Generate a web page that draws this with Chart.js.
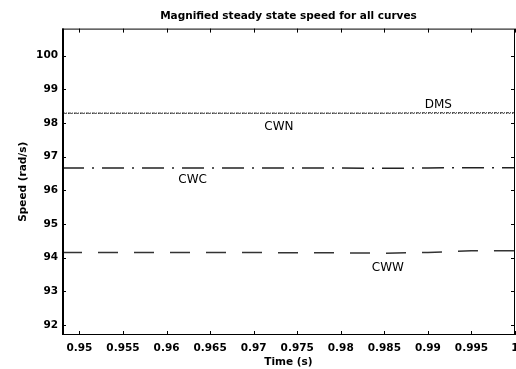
<!DOCTYPE html>
<html>
<head>
<meta charset="utf-8">
<script src="https://cdn.jsdelivr.net/npm/chart.js@4/dist/chart.umd.min.js"></script>
<style>
  body { margin: 0; background: #fff; }
  #box { width: 516px; height: 369px; }
</style>
</head>
<body>
<div id="box"><canvas id="speed-chart"></canvas></div>
<script>
// Time samples (s) and steady state speeds (rad/s)
let timeValues = [0.948, 0.955, 0.96, 0.965, 0.97, 0.975, 0.98, 0.985, 0.99, 0.995, 1.0]
let dmsSpeed = [98.29, 98.29, 98.29, 98.29, 98.29, 98.29, 98.29, 98.29, 98.3, 98.3, 98.3]
let cwnSpeed = [98.28, 98.28, 98.28, 98.28, 98.28, 98.28, 98.28, 98.28, 98.28, 98.28, 98.28]
let cwcSpeed = [96.66, 96.66, 96.66, 96.66, 96.66, 96.66, 96.66, 96.65, 96.66, 96.67, 96.67]
let cwwSpeed = [94.15, 94.15, 94.15, 94.15, 94.15, 94.14, 94.14, 94.13, 94.15, 94.2, 94.2]

// Tick labels
let xTicks = [0.95, 0.955, 0.96, 0.965, 0.97, 0.975, 0.98, 0.985, 0.99, 0.995, 1]
let yTicks = [92, 93, 94, 95, 96, 97, 98, 99, 100]

// Curve names written inside the plot, in data coordinates
let labelNames = ['DMS', 'CWN', 'CWC', 'CWW']
let labelTimes = [0.9912, 0.9729, 0.963, 0.9854]
let labelSpeeds = [98.54, 97.88, 96.32, 93.7]

let font = 'DejaVu Sans'

function makePoints(values) {
    return values.map(function(v, i) { return {x: timeValues[i], y: v} })
}

// Draws the box round the plot, the inward ticks and the curve names
let framePlugin = {
    id: 'frame',
    afterDraw(chart) {
        let ctx = chart.ctx
        let a = chart.chartArea
        let xs = chart.scales.x
        let ys = chart.scales.y
        ctx.save()
        ctx.strokeStyle = '#000'
        ctx.lineWidth = 1
        ctx.strokeRect(a.left + 0.5, a.top + 0.5, a.right - a.left - 1, a.bottom - a.top - 1)
        // heavier left edge, as in the scan
        ctx.lineWidth = 2
        ctx.beginPath()
        ctx.moveTo(a.left + 1, a.top); ctx.lineTo(a.left + 1, a.bottom)
        ctx.stroke()
        ctx.lineWidth = 1
        ctx.beginPath()
        xTicks.forEach(function(t) {
            let px = Math.round(xs.getPixelForValue(t)) + 0.5
            ctx.moveTo(px, a.bottom); ctx.lineTo(px, a.bottom - 4)
            ctx.moveTo(px, a.top); ctx.lineTo(px, a.top + 4)
        })
        yTicks.forEach(function(t) {
            let py = Math.round(ys.getPixelForValue(t)) + 0.5
            ctx.moveTo(a.left, py); ctx.lineTo(a.left + 4, py)
            ctx.moveTo(a.right, py); ctx.lineTo(a.right - 4, py)
        })
        ctx.stroke()
        ctx.fillStyle = '#000'
        ctx.font = '12px "' + font + '"'
        ctx.textAlign = 'center'
        ctx.textBaseline = 'middle'
        labelNames.forEach(function(name, i) {
            ctx.fillText(name, xs.getPixelForValue(labelTimes[i]), ys.getPixelForValue(labelSpeeds[i]))
        })
        ctx.restore()
    }
}

let ctx = document.querySelector('#speed-chart').getContext('2d')
let speedChart = new Chart(ctx, {
    type: 'line',
    data: {
        datasets: [
            {label: 'DMS', data: makePoints(dmsSpeed), borderColor: '#222', borderWidth: 1, borderDash: [3, 1, 1, 1]},
            {label: 'CWN', data: makePoints(cwnSpeed), borderColor: '#555', borderWidth: 1, borderDash: [1, 2]},
            {label: 'CWC', data: makePoints(cwcSpeed), borderColor: '#222', borderWidth: 1.5, borderDash: [22, 8, 2, 8]},
            {label: 'CWW', data: makePoints(cwwSpeed), borderColor: '#333', borderWidth: 1.5, borderDash: [20, 16]}
        ]
    },
    options: {
        responsive: true,
        maintainAspectRatio: false,
        animation: false,
        layout: {padding: {left: 0, right: 1, top: 0, bottom: 0}},
        elements: {point: {radius: 0}, line: {tension: 0}},
        plugins: {
            legend: {display: false},
            tooltip: {enabled: false},
            title: {
                display: true,
                fullSize: false,
                text: 'Magnified steady state speed for all curves',
                color: '#000',
                font: {family: font, size: 10.5, weight: 'bold', lineHeight: 1.2},
                padding: {top: 10, bottom: 6}
            }
        },
        scales: {
            x: {
                type: 'linear',
                min: 0.948,
                max: 1.0,
                afterBuildTicks: function(scale) { scale.ticks = xTicks.map(function(v) { return {value: v} }) },
                afterFit: function(scale) {
                    scale.height = 34
                    scale.paddingLeft = 0
                    scale.paddingRight = 0
                },
                grid: {display: false, drawTicks: false},
                border: {display: false},
                ticks: {
                    autoSkip: false,
                    maxRotation: 0,
                    padding: 7,
                    color: '#000',
                    font: {family: font, size: 10.5, weight: 'bold'},
                    callback: function(v) { return String(+v.toFixed(3)) }
                },
                title: {
                    display: true,
                    text: 'Time (s)',
                    color: '#000',
                    font: {family: font, size: 10.5, weight: 'bold'},
                    padding: {top: 0, bottom: 0}
                }
            },
            y: {
                min: 91.7,
                max: 100.8,
                afterBuildTicks: function(scale) { scale.ticks = yTicks.map(function(v) { return {value: v} }) },
                afterFit: function(scale) {
                    scale.width = 62
                    scale.paddingTop = 0
                    scale.paddingBottom = 0
                },
                grid: {display: false, drawTicks: false},
                border: {display: false},
                ticks: {
                    padding: 4,
                    color: '#000',
                    font: {family: font, size: 10.5, weight: 'bold'}
                },
                title: {
                    display: true,
                    text: 'Speed (rad/s)',
                    color: '#000',
                    font: {family: font, size: 10.5, weight: 'bold'},
                    padding: {top: 17, bottom: 0}
                }
            }
        }
    },
    plugins: [framePlugin]
})
</script>
</body>
</html>
